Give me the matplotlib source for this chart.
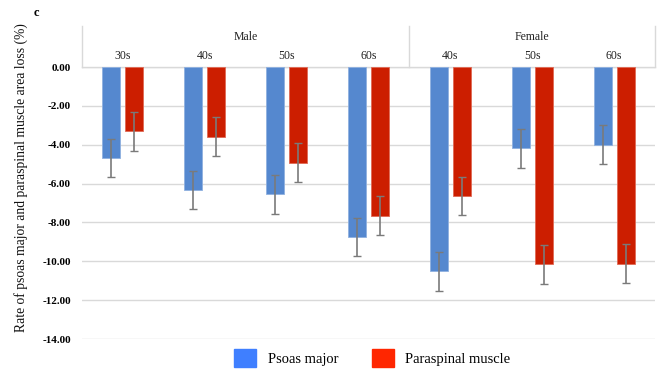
import matplotlib
matplotlib.use("Agg")
import matplotlib.pyplot as plt
import matplotlib.patches as mpatches
import numpy as np

plt.rcParams['font.family'] = ['Liberation Serif', 'DejaVu Serif']

# data
groups = ["Male", "Female"]
ages = ["30s", "40s", "50s", "60s", "40s", "50s", "60s"]
group_sizes = [4, 3]
psoas = [-4.68, -6.33, -6.55, -8.75, -10.52, -4.19, -4.01]
paraspinal = [-3.30, -3.58, -4.92, -7.65, -6.64, -10.16, -10.12]
psoas_err = [1.0, 1.0, 1.0, 1.0, 1.0, 1.0, 1.0]
paraspinal_err = [1.0, 1.0, 1.0, 1.0, 1.0, 1.0, 1.0]
yticks = np.arange(0, -15, -2)

blue = '#5588cf'
red = '#cc1e00'

fig = plt.figure(figsize=(6.65, 3.69), dpi=100)
ax = fig.add_axes([0.1233, 0.0813, 0.8617, 0.7371])

x = np.arange(len(ages))
w = 0.22
err_kw = dict(ecolor='#7a7a7a', elinewidth=1.2, capsize=3, capthick=1.0)
ax.bar(x - 0.14, psoas, w, color=blue, edgecolor='#8fb0e0', linewidth=0.6,
       yerr=psoas_err, error_kw=err_kw, zorder=3)
ax.bar(x + 0.14, paraspinal, w, color=red, edgecolor='#e06a55', linewidth=0.6,
       yerr=paraspinal_err, error_kw=err_kw, zorder=3)

ax.set_xlim(-0.5, len(ages) - 0.5)
ax.set_ylim(-14, 0)
ax.set_yticks(yticks)
ax.set_yticklabels(["%.2f" % v for v in yticks], fontweight='bold', fontsize=8)
ax.tick_params(axis='y', length=0, pad=8)
ax.set_xticks([])
ax.grid(axis='y', color='#d9d9d9', linewidth=1, zorder=0)
for s in ax.spines.values():
    s.set_visible(False)

# y label centred on the plot + header block
fig.text(0.032, 0.519, "Rate of psoas major and paraspinal muscle area loss (%)",
         rotation=90, ha='center', va='center', fontsize=9.8, color='#111111')

# header with group and age labels above the zero line
for i, a in enumerate(ages):
    ax.text(i, 1.04, a, transform=ax.get_xaxis_transform(), ha='center',
            va='center', fontsize=8.5, color='#222222')
start = 0
for g, n in zip(groups, group_sizes):
    mid = start + (n - 1) / 2
    ax.text(mid, 1.11, g, transform=ax.get_xaxis_transform(), ha='center',
            va='center', fontsize=8.5, color='#222222')
    start += n
bounds = [-0.5, group_sizes[0] - 0.5, len(ages) - 0.5]
for b in bounds:
    ax.plot([b, b], [1.0, 1.0 + 0.15], transform=ax.get_xaxis_transform(),
            color='#d9d9d9', linewidth=1, clip_on=False)
ax.plot([-0.5, len(ages) - 0.5], [1.0, 1.0], transform=ax.get_xaxis_transform(),
        color='#d9d9d9', linewidth=1, clip_on=False)

fig.text(0.055, 0.965, "c", fontweight='bold', fontsize=9, ha='center', va='center')

handles = [mpatches.Patch(color='#3f7fff', label='Psoas major'),
           mpatches.Patch(color='#ff2600', label='Paraspinal muscle')]
fig.legend(handles=handles, loc='center', bbox_to_anchor=(0.56, 0.03),
           ncol=2, frameon=False, fontsize=10.5, handlelength=1.5, handleheight=1.6,
           columnspacing=2.3)

fig.savefig('out.png', dpi=100)
